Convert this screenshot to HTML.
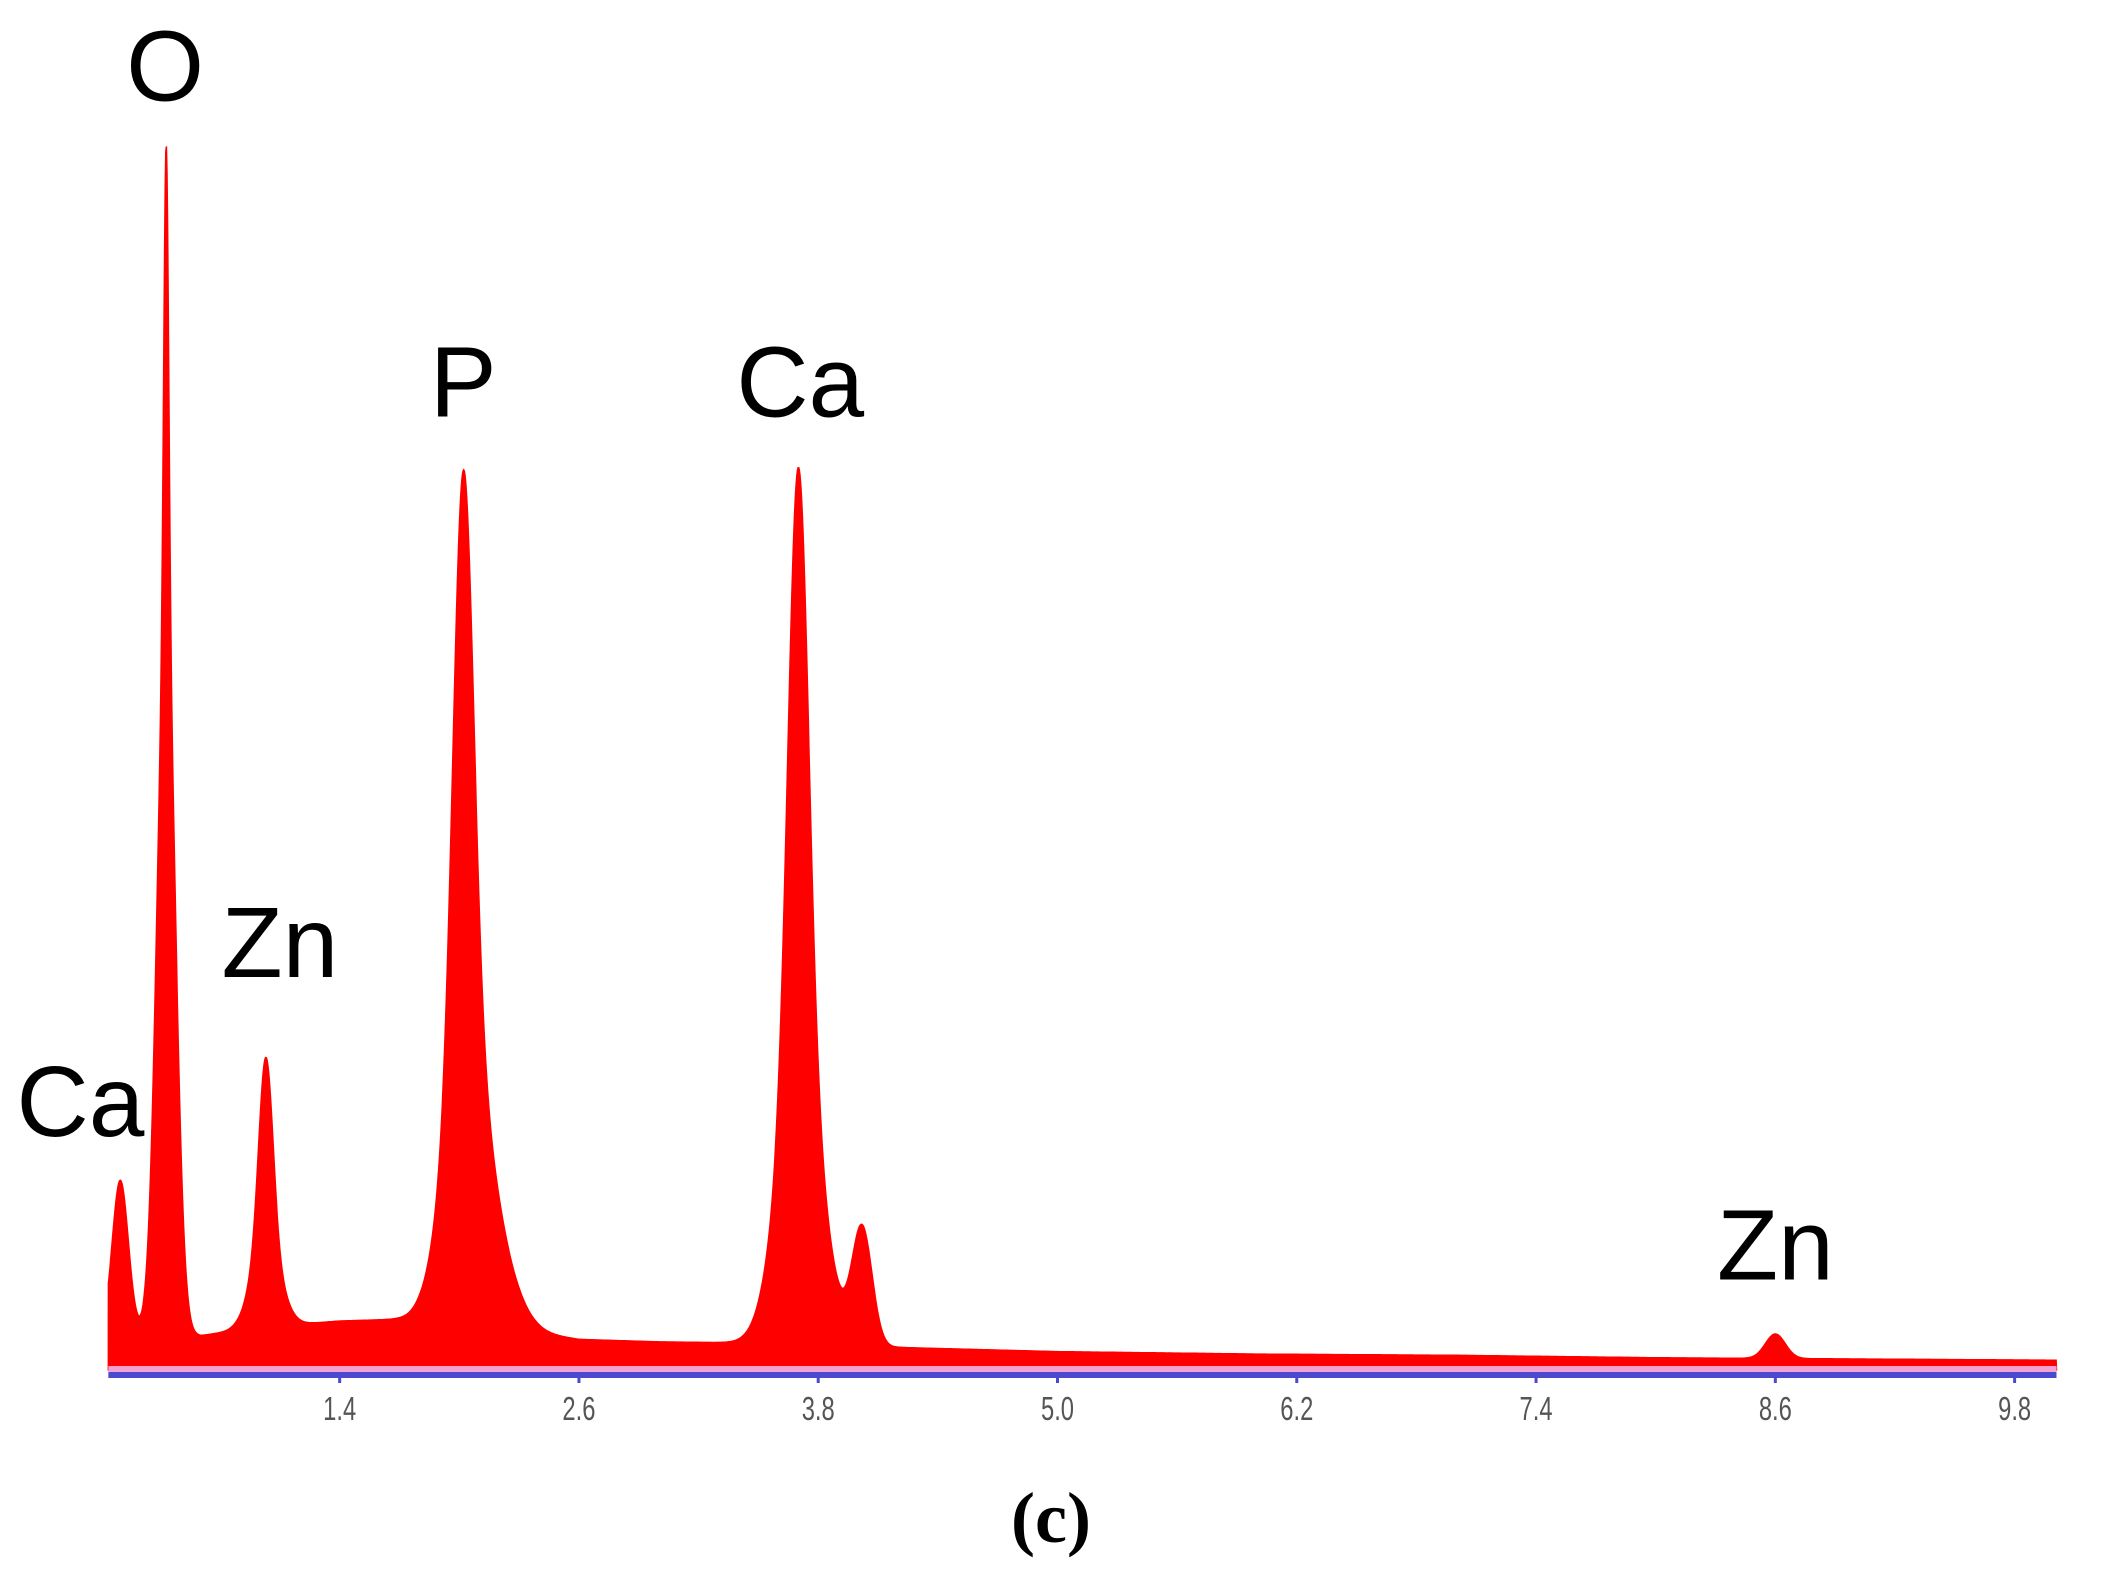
<!DOCTYPE html>
<html><head><meta charset="utf-8"><style>
html,body{margin:0;padding:0;background:#fff;}
svg{display:block;}
</style></head><body>
<svg width="2126" height="1579" viewBox="0 0 2126 1579" xmlns="http://www.w3.org/2000/svg">
<g id="plot"></g>
<g id="axis"></g>
<g id="labels" font-family="Liberation Sans, sans-serif" font-size="100" fill="#000" text-anchor="middle"></g>
<text x="1051" y="1542" font-family="Liberation Serif, serif" font-weight="bold" font-size="72" text-anchor="middle">(c)</text>
</svg>
<script>
// peaks: energy (keV), height (counts), sigma (keV)
const peakEnergy = [0.30, 0.53, 0.53, 1.03, 1.03, 2.02, 2.02, 2.14, 3.70, 3.70, 3.74, 4.02, 8.60];
const peakHeight = [125, 592, 380, 150, 70, 452, 200, 75, 469, 200, 50, 95, 20];
const peakSigma  = [0.040, 0.045, 0.012, 0.035, 0.070, 0.050, 0.100, 0.12, 0.050, 0.100, 0.12, 0.050, 0.050];
// background sampled points
const bgEnergy = [0.24, 0.4, 0.7, 1.0, 1.4, 1.8, 2.3, 2.6, 3.0, 3.5, 4.3, 5.0, 6.0, 7.0, 8.0, 9.0, 10.0];
const bgCounts = [30, 30, 28, 35, 40, 42, 32, 25, 23, 22, 18, 15, 13, 12, 10, 9, 8];
// ticks
const tickValues = [1.4, 2.6, 3.8, 5.0, 6.2, 7.4, 8.6, 9.8];
const tickLabels = ["1.4", "2.6", "3.8", "5.0", "6.2", "7.4", "8.6", "9.8"];
// element labels: text, energy at label centre, counts at label baseline
const labelText   = ["O", "Ca", "Zn", "P", "Ca", "Zn"];
const labelEnergy = [0.525, 0.10, 1.10, 2.02, 3.71, 8.60];
const labelCounts = [1037, 191, 321, 779, 779, 74];

const NS = "http://www.w3.org/2000/svg";
const xMin = 0.24, xMax = 10.01;
const X = k => 60.5 + 199.4 * k;
const Y = c => 1370 - 1.224 * c;

function bg(k){
  for(let i=0;i<bgEnergy.length-1;i++){
    if(k>=bgEnergy[i] && k<=bgEnergy[i+1]){
      const t=(k-bgEnergy[i])/(bgEnergy[i+1]-bgEnergy[i]);
      return bgCounts[i]+(bgCounts[i+1]-bgCounts[i])*t;
    }
  }
  return bgCounts[bgCounts.length-1];
}
function counts(k){
  let c = bg(k);
  for(let i=0;i<peakEnergy.length;i++){
    const d=(k-peakEnergy[i])/peakSigma[i];
    c += peakHeight[i]*Math.exp(-0.5*d*d);
  }
  return c;
}
const plot=document.getElementById('plot');
let d="M"+X(xMin)+","+Y(0);
for(let k=xMin;k<=xMax;k+=0.003){ d+=" L"+X(k).toFixed(1)+","+Y(counts(k)).toFixed(1); }
d+=" L"+X(xMax)+","+Y(0)+" Z";
const area=document.createElementNS(NS,'path');


area.setAttribute('d', d);
area.setAttribute('fill', '#ff0000');
area.setAttribute('stroke', '#ff0000');
area.setAttribute('stroke-width', '1.5');
plot.appendChild(area);

const axis=document.getElementById('axis');
const pink=document.createElementNS(NS,'rect');


pink.setAttribute('x', X(xMin)); pink.setAttribute('y', 1366);
pink.setAttribute('width', X(xMax)-X(xMin)); pink.setAttribute('height', 6);
pink.setAttribute('fill', '#f4a0d0');
axis.appendChild(pink);
const line=document.createElementNS(NS,'rect');


line.setAttribute('x', X(xMin)); line.setAttribute('y', 1372);
line.setAttribute('width', X(xMax)-X(xMin)); line.setAttribute('height', 6);
line.setAttribute('fill', '#4a4ad0');
axis.appendChild(line);
tickValues.forEach((v,i)=>{
  const t=document.createElementNS(NS,'rect');
  
  
  t.setAttribute('x', X(v)-1.5); t.setAttribute('y', 1376);
  t.setAttribute('width', 3); t.setAttribute('height', 7);
  t.setAttribute('fill', '#4a4ad0');
  axis.appendChild(t);
  const tx=document.createElementNS(NS,'text');
  
  
  tx.setAttribute('transform', 'translate('+X(v)+',1420) scale(0.72,1)');
  tx.setAttribute('text-anchor', 'middle');
  tx.setAttribute('font-family', 'Liberation Sans, sans-serif');
  tx.setAttribute('font-size', '33');
  tx.setAttribute('fill', '#555');
  tx.textContent=tickLabels[i];
  axis.appendChild(tx);
});
const labels=document.getElementById('labels');
labelText.forEach((s,i)=>{
  const t=document.createElementNS(NS,'text');
  
  
  t.setAttribute('x', X(labelEnergy[i]));
  t.setAttribute('y', Y(labelCounts[i]));
  t.textContent=s;
  labels.appendChild(t);
});
</script>
</body></html>
